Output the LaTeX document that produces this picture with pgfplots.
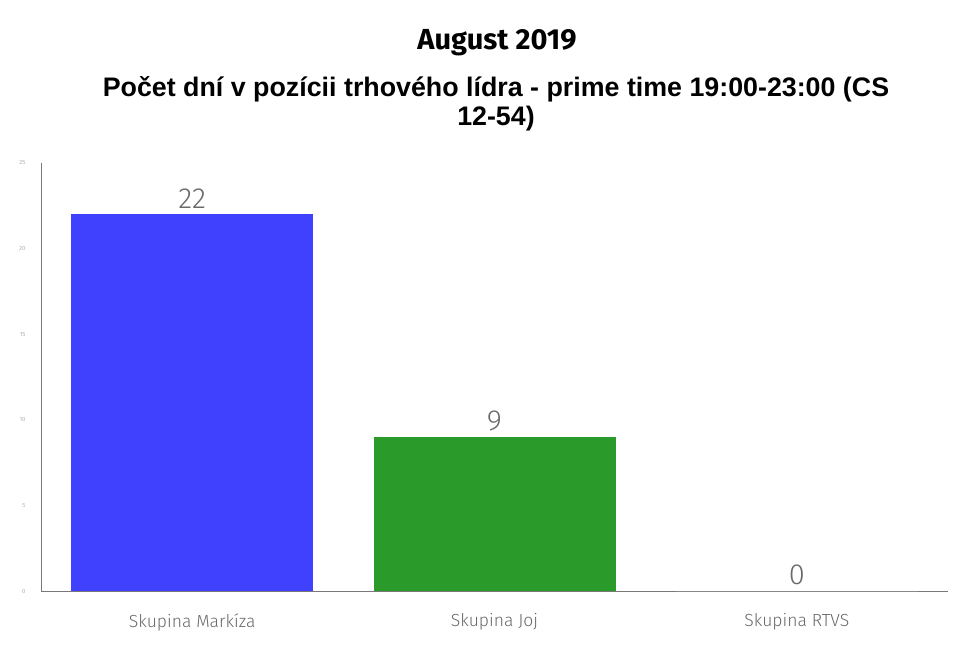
\documentclass[border=0pt]{standalone}
\usepackage{fontspec}
\setmainfont{Fira Sans}
\newfontfamily\firalight{Fira Sans Light}
\newfontfamily\arialbold{Liberation Sans}[BoldFont={Liberation Sans Bold}]
\usepackage{pgfplots}
\pgfplotsset{compat=1.18}
\definecolor{barblue}{RGB}{64,64,255}
\definecolor{bargreen}{RGB}{42,154,42}
\definecolor{axgray}{RGB}{120,120,120}
\definecolor{lblgray}{RGB}{105,105,105}
\begin{document}
\begin{tikzpicture}[x=1pt,y=1pt]
\useasboundingbox (0,0) rectangle (959,654);
\node[font=\bfseries\fontsize{29}{32}\selectfont] at (497,611) {August 2019};
\node[font=\arialbold\bfseries\fontsize{26.8}{29}\selectfont, align=center] at (496,550) {Počet dní v pozícii trhového lídra - prime time 19:00-23:00 (CS\\12-54)};
\begin{axis}[
  at={(41pt,63pt)}, anchor=south west,
  scale only axis, width=907pt, height=428pt,
  xmin=-0.5, xmax=2.5, ymin=0, ymax=25,
  axis x line*=bottom, axis y line*=left,
  axis line style={axgray, line width=0.8pt},
  x axis line style={-}, y axis line style={-},
  ytick={0,5,10,15,20,25},
  major tick length=0pt,
  yticklabel style={font=\fontsize{6}{7}\selectfont, color=black!30, xshift=-12pt},
  /pgf/number format/assume math mode=true,
  xtick={0,1,2},
  xticklabels={Skupina Markíza, Skupina Joj, Skupina RTVS},
  xticklabel style={font=\firalight\fontsize{17.5}{20}\selectfont, color=lblgray, yshift=-19pt},
  ybar, bar width=242pt, bar shift=0pt,
  nodes near coords,
  every node near coord/.append style={font=\firalight\fontsize{29}{30}\selectfont, color=lblgray, inner sep=1pt, yshift=5pt},
  ymajorgrids=false,
]
\addplot[fill=barblue, draw=none] coordinates {(0,22)};
\addplot[fill=bargreen, draw=none] coordinates {(1,9)};
\addplot[fill=white, draw=none] coordinates {(2,0)};
\end{axis}
\end{tikzpicture}
\end{document}
